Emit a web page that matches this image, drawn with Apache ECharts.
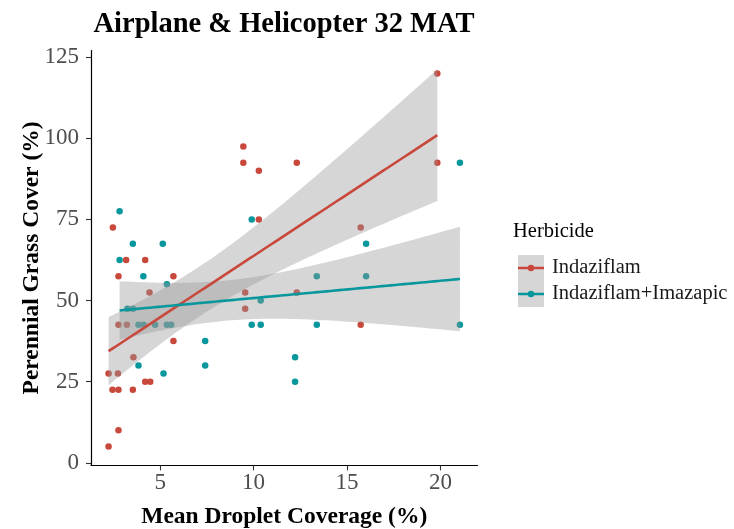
<!DOCTYPE html>
<html>
<head>
<meta charset="utf-8">
<script src="https://cdn.jsdelivr.net/npm/echarts@6/dist/echarts.min.js"></script>
<style>html,body{margin:0;padding:0;background:#fff}#c{width:734px;height:529px}</style>
</head>
<body>
<div id="c"></div>
<script>
// Indaziflam (red)
var indazX = [2.24, 2.24, 2.45, 2.47, 2.74, 2.77, 2.77, 2.77, 2.77, 3.18, 3.22, 3.54, 3.57, 4.2, 4.2, 4.47, 4.43, 5.71, 5.71, 9.45, 9.45, 9.55, 9.55, 10.28, 10.28, 12.31, 12.31, 15.73, 15.73, 19.83, 19.83];
var indazY = [27.5, 5, 22.5, 72.5, 27.5, 22.5, 10, 57.5, 42.5, 62.5, 42.5, 22.5, 32.5, 62.5, 25, 25, 52.5, 57.5, 37.5, 97.5, 92.5, 52.5, 47.5, 90, 75, 92.5, 52.5, 72.5, 42.5, 120, 92.5];
// Indaziflam+Imazapic (teal)
var imazX = [2.83, 3.54, 5.14, 2.83, 4.1, 5.36, 3.25, 3.54, 3.84, 4.11, 4.73, 5.36, 5.59, 7.41, 3.84, 7.41, 5.18, 9.9, 10.38, 13.38, 9.9, 10.38, 13.38, 12.22, 12.22, 16.02, 16.02, 21.04, 21.04];
var imazY = [77.5, 67.5, 67.5, 62.5, 57.5, 55, 47.5, 47.5, 42.5, 42.5, 42.5, 42.5, 42.5, 37.5, 30, 30, 27.5, 75, 50, 57.5, 42.5, 42.5, 42.5, 32.5, 25, 67.5, 57.5, 92.5, 42.5];
var groupNames = ['Indaziflam', 'Indaziflam+Imazapic'];
var groupColors = ['#C9483C', '#08979C'];
var xTicks = [5, 10, 15, 20];
var yTicks = [0, 25, 50, 75, 100, 125];

function tq975(df) {
  var z = 1.959964;
  return z + (Math.pow(z,3)+z)/(4*df) + (5*Math.pow(z,5)+16*Math.pow(z,3)+3*z)/(96*df*df);
}
function lmFit(xs, ys) {
  var n = xs.length, mx = 0, my = 0, i;
  for (i = 0; i < n; i++) { mx += xs[i]; my += ys[i]; }
  mx /= n; my /= n;
  var sxx = 0, sxy = 0;
  for (i = 0; i < n; i++) { sxx += (xs[i]-mx)*(xs[i]-mx); sxy += (xs[i]-mx)*(ys[i]-my); }
  var b = sxy/sxx, a = my - b*mx, sse = 0;
  for (i = 0; i < n; i++) { var r = ys[i] - (a + b*xs[i]); sse += r*r; }
  var s = Math.sqrt(sse/(n-2)), t = tq975(n-2);
  var x0 = Math.min.apply(null, xs), x1 = Math.max.apply(null, xs);
  var upper = [], lower = [], line = [];
  for (i = 0; i < 80; i++) {
    var x = x0 + (x1-x0)*i/79;
    var yh = a + b*x;
    var se = s*Math.sqrt(1/n + (x-mx)*(x-mx)/sxx);
    upper.push([x, yh + t*se]);
    lower.push([x, yh - t*se]);
    line.push([x, yh]);
  }
  return {upper: upper, lower: lower, line: line};
}
var fits = [lmFit(indazX, indazY), lmFit(imazX, imazY)];

// ggplot-like 5% expansion
var allX = indazX.concat(imazX);
var allY = indazY.concat(imazY);
fits.forEach(function (f) { f.upper.forEach(function (p) { allY.push(p[1]); }); f.lower.forEach(function (p) { allY.push(p[1]); }); });
var xmn = Math.min.apply(null, allX), xmx = Math.max.apply(null, allX);
var ymn = Math.min.apply(null, allY), ymx = Math.max.apply(null, allY);
var xMin = xmn - 0.05*(xmx-xmn), xMax = xmx + 0.05*(xmx-xmn);
var yMin = ymn - 0.05*(ymx-ymn), yMax = ymx + 0.05*(ymx-ymn);

function pts(xs, ys) { return xs.map(function (x, i) { return [x, ys[i]]; }); }
var ptsData = [pts(indazX, indazY), pts(imazX, imazY)];

var FONT = 'Liberation Serif';
var series = [];
for (var g = 0; g < 2; g++) {
  series.push({
    name: groupNames[g], type: 'scatter', data: ptsData[g], symbolSize: 6.5,
    itemStyle: {color: groupColors[g], opacity: 1}, z: 2, silent: true
  });
}
for (var g2 = 0; g2 < 2; g2++) {
  (function (f, name) {
    series.push({
      name: name, type: 'custom', z: 3, silent: true,
      data: [[f.line[0][0], f.line[0][1]]],
      renderItem: function (params, api) {
        var poly = [];
        f.upper.forEach(function (p) { poly.push(api.coord(p)); });
        for (var k = f.lower.length - 1; k >= 0; k--) poly.push(api.coord(f.lower[k]));
        return {type: 'polygon', shape: {points: poly}, style: {fill: '#999999', opacity: 0.4, stroke: null}};
      }
    });
  })(fits[g2], groupNames[g2]);
}
for (var g3 = 0; g3 < 2; g3++) {
  series.push({
    name: groupNames[g3], type: 'line', data: fits[g3].line, showSymbol: false, z: 4, silent: true,
    lineStyle: {color: groupColors[g3], width: 2.6}, itemStyle: {color: groupColors[g3]}
  });
}

var lineIcon = 'path://M0,2H10.2V4.5H0Z M15.8,2H26V4.5H15.8Z M9.75,3.25A3.25,3.25 0 1,1 16.25,3.25A3.25,3.25 0 1,1 9.75,3.25Z';

var option = {
  backgroundColor: '#ffffff',
  animation: false,
  title: [
    {text: 'Airplane & Helicopter 32 MAT', left: 279, top: 5, textAlign: 'center',
     textStyle: {fontFamily: FONT, fontWeight: 'bold', fontSize: 28.5, color: '#000'}},
    {text: 'Herbicide', left: 508, top: 216,
     textStyle: {fontFamily: FONT, fontWeight: 'normal', fontSize: 20.5, color: '#000'}}
  ],
  legend: [
    {orient: 'vertical', left: 513, top: 250, itemWidth: 26, itemHeight: 26, itemGap: 0,
     selectedMode: false, data: groupNames.map(function (n) { return {name: n, icon: 'rect'}; }),
     itemStyle: {color: '#D6D6D6', opacity: 1}, formatter: function () { return ''; },
     textStyle: {fontSize: 1}},
    {orient: 'vertical', left: 513, top: 250, itemWidth: 26, itemHeight: 6.5, itemGap: 0,
     selectedMode: false, data: groupNames.map(function (n) { return {name: n, icon: lineIcon}; }),
     textStyle: {fontFamily: FONT, fontSize: 20.5, color: '#1a1a1a', lineHeight: 26, padding: [0, 0, 0, 3]}}
  ],
  grid: {left: 91, right: 734 - 477.5, top: 50.5, bottom: 63.6, containLabel: false, outerBoundsMode: 'none'},
  xAxis: {
    type: 'value', min: xMin, max: xMax,
    name: 'Mean Droplet Coverage (%)', nameLocation: 'middle', nameGap: 40, nameMoveOverlap: false,
    nameTextStyle: {fontFamily: FONT, fontWeight: 'bold', fontSize: 23.5, color: '#000'},
    axisLine: {show: true, onZero: false, lineStyle: {color: '#000', width: 1.2}},
    axisTick: {show: true, length: 5, lineStyle: {color: '#333', width: 1.1}, customValues: xTicks},
    axisLabel: {fontFamily: FONT, fontSize: 23, color: '#4D4D4D', margin: 6, customValues: xTicks},
    splitLine: {show: false}
  },
  yAxis: {
    type: 'value', min: yMin, max: yMax,
    name: 'Perennial Grass Cover (%)', nameLocation: 'middle', nameGap: 47, nameMoveOverlap: false,
    nameTextStyle: {fontFamily: FONT, fontWeight: 'bold', fontSize: 23.5, color: '#000'},
    axisLine: {show: true, onZero: false, lineStyle: {color: '#000', width: 1.2}},
    axisTick: {show: true, length: 5, lineStyle: {color: '#333', width: 1.1}, customValues: yTicks},
    axisLabel: {fontFamily: FONT, fontSize: 23, color: '#4D4D4D', margin: 12, customValues: yTicks},
    splitLine: {show: false}
  },
  series: series
};
var chart = echarts.init(document.getElementById('c'), null, {renderer: 'canvas'});
chart.setOption(option);
</script>
</body>
</html>
